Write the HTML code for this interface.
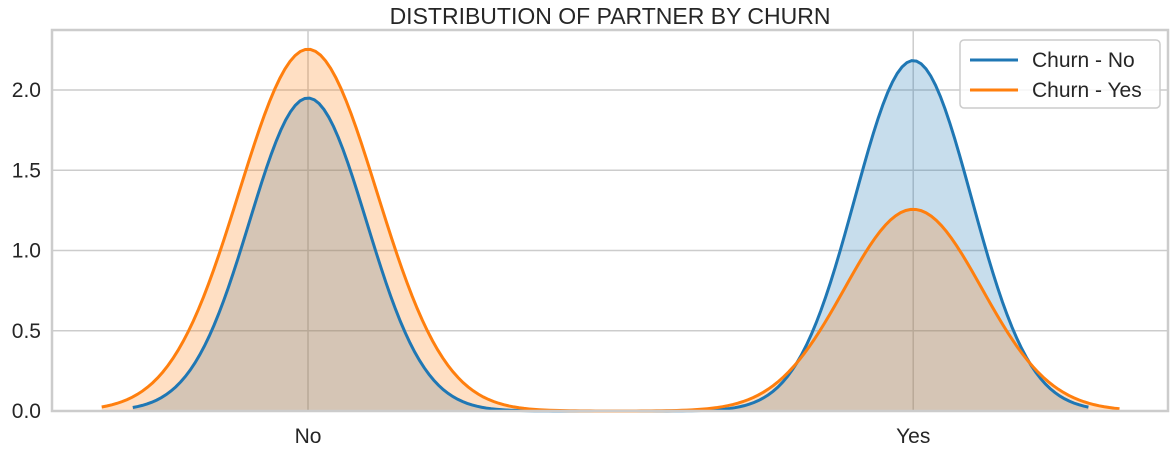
<!DOCTYPE html>
<html><head><meta charset="utf-8"><style>
body{margin:0;background:#fff;font-family:"Liberation Sans",sans-serif}
svg text{font-family:"Liberation Sans",sans-serif;fill:#262626}
</style></head><body>
<svg id="chart" width="1176" height="454"></svg>
<script>
const categories = ["No", "Yes"];
const seriesNames = ["Churn - No", "Churn - Yes"];
const countsChurnNo = [2441, 2733];
const countsChurnYes = [1200, 669];
const yTicks = [0.0, 0.5, 1.0, 1.5, 2.0];
const yTickLabels = ["0.0", "0.5", "1.0", "1.5", "2.0"];
const colors = ["#1f77b4", "#ff7f0e"];

const NS = "http://www.w3.org/2000/svg";
const svg = document.getElementById("chart");
const L = 52, R = 1168, T = 30, B = 411;
const xMin = -0.423, xMax = 1.421, yMax = 2.374;
const xs = v => L + (v - xMin) / (xMax - xMin) * (R - L);
const ys = v => B - v / yMax * (B - T);
function mk(tag, attrs, parent) {
  const e = document.createElementNS(NS, tag);
  for (const k in attrs) e.setAttribute(k, attrs[k]);
  (parent || svg).appendChild(e);
  return e;
}
yTicks.forEach((t, i) => {
  const g = mk("line", {x1: L, x2: R, y1: ys(t), y2: ys(t), stroke: "#cccccc", "stroke-width": 1.5});
  
  
  const tx = mk("text", {x: L - 11, y: ys(t) + 7, "text-anchor": "end", "font-size": 21});
  tx.textContent = yTickLabels[i];
  
  
});
categories.forEach((c, i) => {
  const g = mk("line", {x1: xs(i), x2: xs(i), y1: T, y2: B, stroke: "#cccccc", "stroke-width": 1.5});
  
  
  const tx = mk("text", {x: xs(i), y: 443, "text-anchor": "middle", "font-size": 21});
  tx.textContent = c;
  
  
});
function kde(counts) {
  const n = counts[0] + counts[1];
  const p = counts[1] / n;
  const sd = Math.sqrt(p * (1 - p) * n / (n - 1));
  const h = 1.069 * sd * Math.pow(n, -0.2);
  const lo = 0 - 3 * h, hi = 1 + 3 * h, N = 200;
  const pts = [];
  for (let k = 0; k <= N; k++) {
    const x = lo + (hi - lo) * k / N;
    let d = 0;
    counts.forEach((c, i) => {
      const z = (x - i) / h;
      d += (c / n) * Math.exp(-0.5 * z * z) / (h * Math.sqrt(2 * Math.PI));
    });
    pts.push([x, d]);
  }
  return pts;
}
const curves = [kde(countsChurnNo), kde(countsChurnYes)];
curves.forEach((pts, s) => {
  let d = "M" + xs(pts[0][0]) + "," + ys(0);
  pts.forEach(p => d += " L" + xs(p[0]).toFixed(2) + "," + ys(p[1]).toFixed(2));
  d += " L" + xs(pts[pts.length - 1][0]) + "," + ys(0) + " Z";
  const f = mk("path", {d: d, fill: colors[s], "fill-opacity": 0.25, stroke: "none"});
  
  
});
curves.forEach((pts, s) => {
  const d = pts.map((p, k) => (k ? "L" : "M") + xs(p[0]).toFixed(2) + "," + ys(p[1]).toFixed(2)).join(" ");
  const l = mk("path", {d: d, fill: "none", stroke: colors[s], "stroke-width": 3});
  
  
});
const fr = mk("rect", {x: L, y: T, width: R - L, height: B - T, fill: "none", stroke: "#cccccc", "stroke-width": 2.5});


const ti = mk("text", {x: (L + R) / 2, y: 24, "text-anchor": "middle", "font-size": 23});
ti.textContent = "DISTRIBUTION OF PARTNER BY CHURN";


const lg = mk("g", {});


mk("rect", {x: 960, y: 40, width: 200, height: 68, rx: 4, fill: "#fff", "fill-opacity": 0.8, stroke: "#cccccc", "stroke-width": 1.5}, lg);
seriesNames.forEach((nm, i) => {
  const y = 60 + i * 30;
  const e = mk("g", {}, lg);
  
  
  mk("line", {x1: 970, x2: 1018, y1: y, y2: y, stroke: colors[i], "stroke-width": 3}, e);
  const t = mk("text", {x: 1032, y: y + 7, "font-size": 21}, e);
  t.textContent = nm;
});
</script>
</body></html>
